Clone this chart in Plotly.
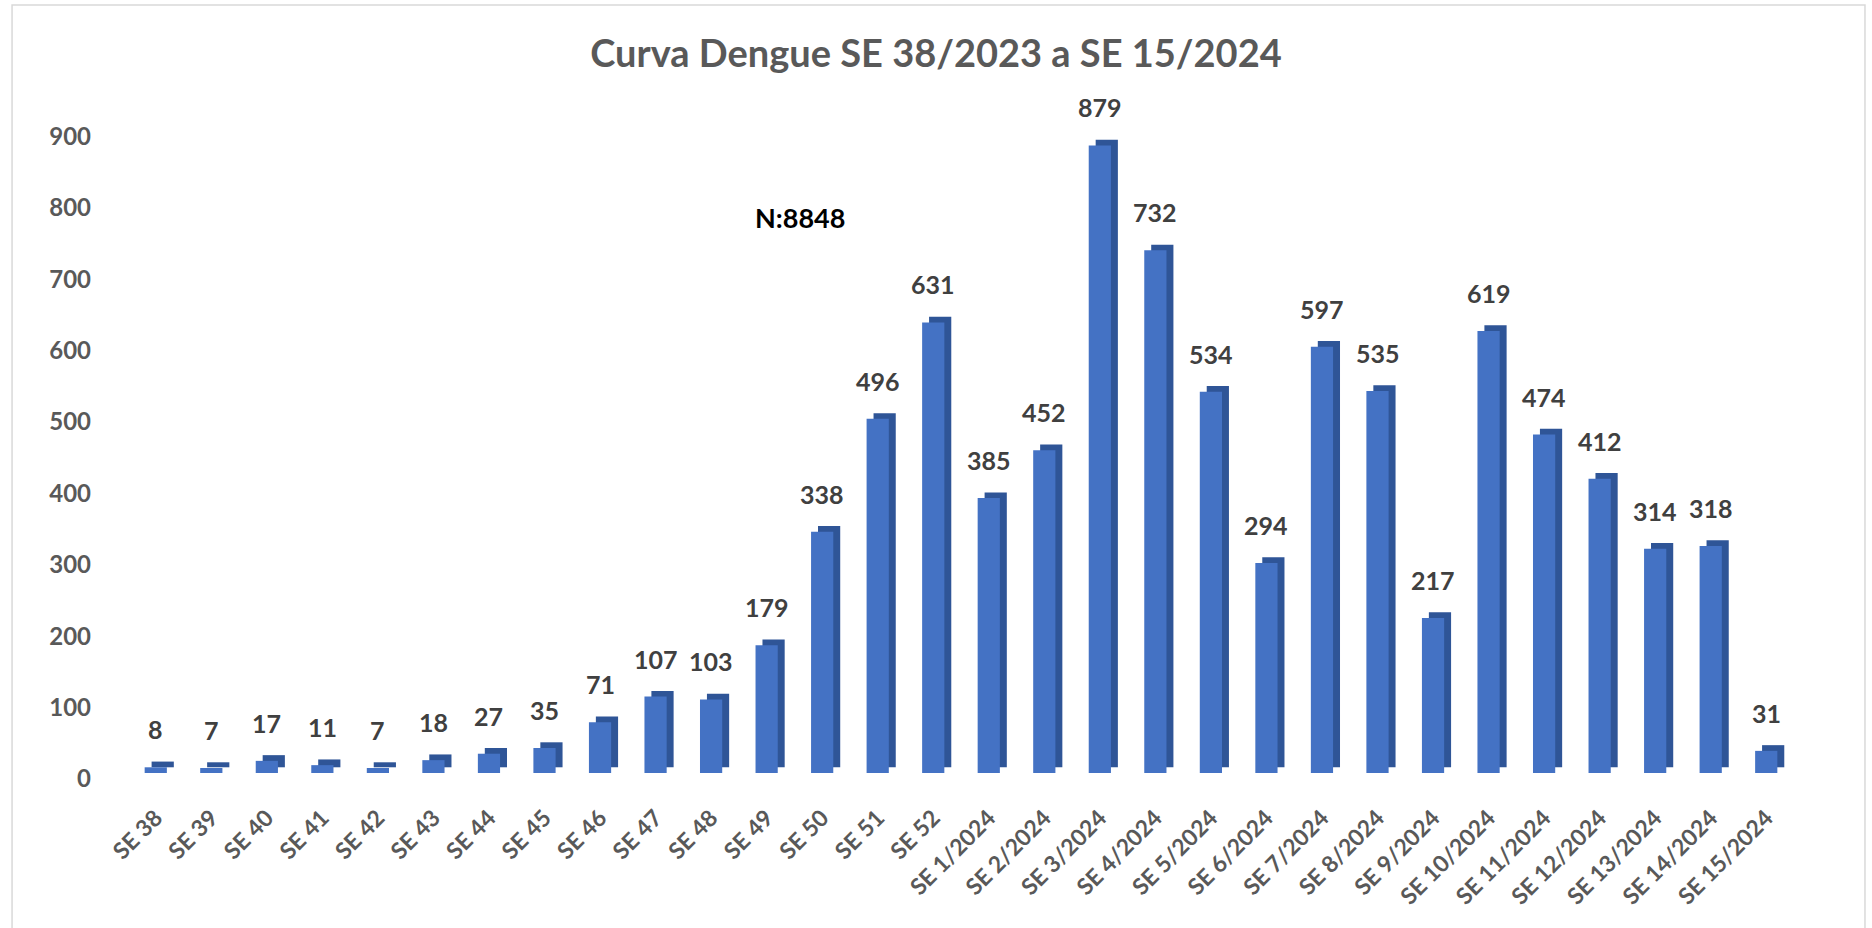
import plotly.graph_objects as go

categories = ["SE 38", "SE 39", "SE 40", "SE 41", "SE 42", "SE 43", "SE 44", "SE 45",
              "SE 46", "SE 47", "SE 48", "SE 49", "SE 50", "SE 51", "SE 52",
              "SE 1/2024", "SE 2/2024", "SE 3/2024", "SE 4/2024", "SE 5/2024",
              "SE 6/2024", "SE 7/2024", "SE 8/2024", "SE 9/2024", "SE 10/2024",
              "SE 11/2024", "SE 12/2024", "SE 13/2024", "SE 14/2024", "SE 15/2024"]
cases = [8, 7, 17, 11, 7, 18, 27, 35, 71, 107, 103, 179, 338, 496, 631,
         385, 452, 879, 732, 534, 294, 597, 535, 217, 619, 474, 412, 314, 318, 31]
title_text = "Curva Dengue SE 38/2023 a SE 15/2024"
total_text = "N:8848"
y_ticks = [0, 100, 200, 300, 400, 500, 600, 700, 800, 900]

FONT = "Lato"
GREY = "#595959"
LABEL = "#404040"
FRONT = "#4472C4"
SIDE = "#2F5597"

fig = go.Figure()
# darker copy behind, on a slightly shifted axis, gives the 3D side/top look
fig.add_trace(go.Bar(
    x=categories, y=cases, yaxis="y",
    marker=dict(color=SIDE, line=dict(width=0)),
    width=0.40, offset=-0.20 + 0.125, hoverinfo="skip", showlegend=False,
))
fig.add_trace(go.Bar(
    x=categories, y=cases, yaxis="y3",
    marker=dict(color=FRONT, line=dict(width=0)),
    width=0.40, offset=-0.20, showlegend=False,
))
# invisible trace to carry the tick axis
fig.add_trace(go.Scatter(x=[categories[0]], y=[0], yaxis="y2", mode="markers",
                         marker=dict(opacity=0), hoverinfo="skip", showlegend=False))

for c, v in zip(categories, cases):
    fig.add_annotation(x=c, y=v, xref="x", yref="y3", text=f"<b>{v}</b>", showarrow=False,
                       yanchor="middle", xanchor="center", yshift=38,
                       font=dict(family=FONT, size=25, color=LABEL))

fig.add_annotation(xref="paper", yref="paper", x=0.4034, y=0.787,
                   xanchor="center", yanchor="middle",
                   text=f"<b>{total_text}</b>", showarrow=False,
                   font=dict(family=FONT, size=27, color="#000000"))

fig.add_shape(type="rect", xref="paper", yref="paper",
              x0=-0.0696, x1=1.0426, y0=-0.25, y1=1.084,
              line=dict(color="#D9D9D9", width=1.5), fillcolor="rgba(0,0,0,0)")

fig.update_layout(
    width=1872, height=928,
    margin=dict(l=128, r=78, t=65, b=149),
    paper_bgcolor="white", plot_bgcolor="white",
    barmode="overlay",
    title=dict(text=f"<b>{title_text}</b>", x=0.5, xref="container", xanchor="center",
               y=0.942, yanchor="middle",
               font=dict(family=FONT, size=38, color=GREY)),
    xaxis=dict(type="category", tickangle=-45, showgrid=False, showline=False,
               zeroline=False, ticks="", ticklabelstandoff=20,
               tickfont=dict(family=FONT, size=23, color=GREY, weight="bold"),
               range=[-0.5, len(categories) - 0.5]),
    yaxis=dict(range=[-16.4, 983.6], showticklabels=False, showgrid=False,
               showline=False, zeroline=False, ticks=""),
    yaxis3=dict(range=[-8.4, 991.6], overlaying="y", showticklabels=False,
                showgrid=False, showline=False, zeroline=False, ticks=""),
    yaxis2=dict(range=[0, 1000], overlaying="y", side="left", tickvals=y_ticks,
                showgrid=False, showline=False, zeroline=False, ticks="",
                ticklabelstandoff=36,
                tickfont=dict(family=FONT, size=24, color=GREY, weight="bold")),
)

fig.write_html("out.html", config={"displayModeBar": False},
               post_script="document.body.style.margin='0';document.body.style.overflow='hidden';")
